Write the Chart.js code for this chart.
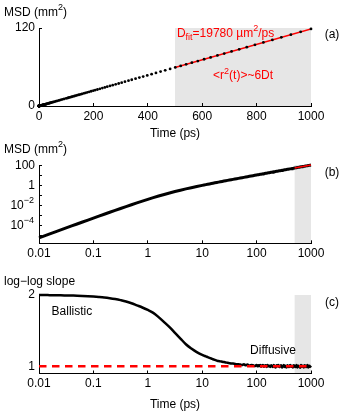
<!DOCTYPE html>
<html>
<head>
<meta charset="utf-8">
<script src="https://cdn.jsdelivr.net/npm/chart.js@4.4.0/dist/chart.umd.min.js"></script>
<style>
  html, body { margin: 0; padding: 0; background: #fff; }
  #wrap { position: relative; width: 342px; height: 414px; }
  #wrap canvas { position: absolute; left: 0; top: 0; }
</style>
</head>
<body>
<div id="wrap">
  <canvas id="msdLin" width="342" height="414"></canvas>
  <canvas id="msdLog" width="342" height="414"></canvas>
  <canvas id="slopeLog" width="342" height="414"></canvas>
</div>
<script>
// lag times (ps)
const time = [
  0.01, 0.0126, 0.0158, 0.02, 0.0251, 0.0316, 0.0398, 0.0501, 0.0631, 0.0794,
  0.1, 0.126, 0.158, 0.2, 0.251, 0.316, 0.398, 0.501, 0.631, 0.794,
  1, 1.26, 1.58, 2, 2.51, 3.16, 3.98, 5.01, 6.31, 7.94,
  10, 10.8, 11.7, 12.6, 13.6, 14.7, 15.8, 17.1, 18.5, 20.0,
  21.5, 23.3, 25.1, 27.1, 29.3, 31.6, 34.1, 36.9, 39.8, 43.0,
  46.4, 50.1, 54.1, 58.4, 63.1, 68.1, 73.6, 79.4, 85.8, 92.6,
  100, 104, 108, 112, 117, 121, 126, 131, 136, 141,
  147, 153, 158, 165, 171, 178, 185, 192, 200, 207,
  215, 224, 233, 242, 251, 261, 271, 282, 293, 304,
  316, 329, 341, 355, 369, 383, 398, 414, 430, 447,
  464, 482, 501, 521, 541, 562, 584, 607, 631, 656,
  681, 708, 736, 764, 794, 825, 858, 891, 926, 962, 1000
];

// mean squared displacement (mm^2)
const msd = [
  5.38e-6, 8.53e-6, 1.34e-5, 2.15e-5, 3.37e-5, 5.34e-5, 8.44e-5, 1.334e-4, 2.107e-4, 3.32e-4,
  5.235e-4, 8.25e-4, 1.285e-3, 2.033e-3, 3.154e-3, 4.906e-3, 7.6e-3, 0.0117, 0.0179, 0.0271,
  0.0407, 0.0605, 0.088, 0.128, 0.1807, 0.2519, 0.3454, 0.4655, 0.6189, 0.812,
  1.06, 1.15, 1.26, 1.37, 1.48, 1.61, 1.75, 1.90, 2.07, 2.24,
  2.42, 2.64, 2.85, 3.09, 3.35, 3.62, 3.92, 4.25, 4.59, 4.97,
  5.38, 5.82, 6.29, 6.80, 7.36, 7.95, 8.61, 9.29, 10.05, 10.86,
  11.74, 12.21, 12.69, 13.16, 13.76, 14.23, 14.83, 15.42, 16.01, 16.61,
  17.32, 18.03, 18.62, 19.46, 20.17, 21.00, 21.83, 22.66, 23.61, 24.44,
  25.39, 26.46, 27.53, 28.60, 29.66, 30.85, 32.04, 33.34, 34.65, 35.95,
  37.38, 38.92, 40.35, 42.01, 43.67, 45.33, 47.11, 49.01, 50.91, 52.93,
  54.95, 57.08, 59.34, 61.71, 64.09, 66.58, 69.19, 71.92, 74.77, 77.74,
  80.70, 83.91, 87.23, 90.56, 94.12, 97.80, 101.71, 105.63, 109.79, 114.06, 118.57
];

// local log-log slope
const slope = [
  2.00, 2.00, 1.998, 1.997, 1.996, 1.994, 1.992, 1.99, 1.987, 1.983,
  1.978, 1.972, 1.965, 1.955, 1.943, 1.928, 1.91, 1.885, 1.855, 1.825,
  1.79, 1.75, 1.69, 1.62, 1.55, 1.47, 1.39, 1.31, 1.25, 1.20,
  1.16, 1.15, 1.14, 1.13, 1.12, 1.11, 1.10, 1.09, 1.08, 1.075,
  1.07, 1.065, 1.06, 1.055, 1.05, 1.045, 1.04, 1.04, 1.035, 1.03,
  1.03, 1.025, 1.02, 1.03, 1.015, 1.025, 1.01, 1.02, 1.015, 1.005,
  1.02, 1.00, 1.015, 1.005, 1.02, 0.995, 1.01, 1.02, 0.995, 1.01,
  1.015, 0.99, 1.02, 1.00, 1.01, 0.99, 1.015, 1.005, 0.99, 1.02,
  1.00, 0.985, 1.015, 1.00, 1.02, 0.99, 1.005, 1.015, 0.985, 1.00,
  1.02, 0.99, 1.01, 0.985, 1.015, 1.00, 0.99, 1.02, 0.995, 1.01,
  0.985, 1.015, 1.00, 0.99, 1.02, 0.985, 1.01, 1.00, 0.98, 1.02,
  0.995, 1.01, 0.985, 1.015, 1.00, 0.99, 1.02, 0.985, 1.01, 0.995, 1.01
];

// linear fit over the shaded window
const fitRange = [500, 1000];
const fitMsd = [59.2, 118.6];
// reference slope of pure diffusion
const refTime = [0.01, 1000];
const refSlope = [1, 1];

const linTimeTicks = [0, 200, 400, 600, 800, 1000];
const linMsdTicks = [0, 120];
const logTimeTicks = [0.01, 0.1, 1, 10, 100, 1000];
const logMsdTicks = [1e-5, 1e-4, 1e-3, 1e-2, 0.1, 1, 10, 100];
const slopeTicks = [1, 2];

const FONT = "'Liberation Sans', Arial, sans-serif";
Chart.defaults.font.family = FONT;
Chart.defaults.font.size = 12;
Chart.defaults.color = '#000';

const pts = (xs, ys) => xs.map((x, i) => ({ x: x, y: ys[i] }));

// text with sub/superscripts: strings are normal, {sup:..} / {sub:..} are small
function drawRich(ctx, parts, x, y, align, color) {
  let w = 0;
  const items = parts.map(p => {
    const small = typeof p !== 'string';
    const t = small ? (p.sup || p.sub) : p;
    ctx.font = (small ? 9 : 12) + 'px ' + FONT;
    const iw = ctx.measureText(t).width;
    w += iw;
    return { t: t, w: iw, dy: small ? (p.sup ? -5 : 4) : 0, small: small };
  });
  let cx = align === 'center' ? x - w / 2 : align === 'right' ? x - w : x;
  ctx.save();
  ctx.fillStyle = color || '#000';
  ctx.textBaseline = 'middle';
  ctx.textAlign = 'left';
  items.forEach(it => {
    ctx.font = (it.small ? 9 : 12) + 'px ' + FONT;
    ctx.fillText(it.t, cx, y + it.dy);
    cx += it.w;
  });
  ctx.restore();
}

const notes = {
  id: 'notes',
  beforeDraw(chart, args, opts) {
    if (!opts.shade) return;
    const { ctx, chartArea: a, scales: { x } } = chart;
    const x0 = x.getPixelForValue(fitRange[0]);
    const x1 = x.getPixelForValue(fitRange[1]);
    ctx.save();
    ctx.fillStyle = '#e6e6e6';
    ctx.fillRect(x0, a.top, x1 - x0, a.bottom - a.top);
    ctx.restore();
  },
  afterDraw(chart, args, opts) {
    const { ctx, chartArea: a, scales } = chart;
    (opts.items || []).forEach(n => {
      let px, py;
      if (n.ref === 'data') {
        px = scales.x.getPixelForValue(n.x);
        py = scales.y.getPixelForValue(n.y);
      } else if (n.ref === 'ytick') {
        px = a.left - 5;
        py = scales.y.getPixelForValue(n.y);
      } else if (n.ref === 'bottom') {
        px = (a.left + a.right) / 2;
        py = a.bottom + n.dy;
      } else if (n.ref === 'right') {
        px = a.right + n.dx;
        py = a.top + n.dy;
      } else {
        px = n.dx;
        py = a.top + n.dy;
      }
      drawRich(ctx, n.parts, px, py, n.align || 'left', n.color);
    });
  }
};

function axis(type, min, max, tickVals, size, label) {
  return {
    type: type,
    min: min,
    max: max,
    bounds: 'data',
    grid: { drawOnChartArea: false, drawTicks: true, tickLength: -3, color: '#000', lineWidth: 1 },
    border: { display: true, color: '#000', width: 1 },
    ticks: {
      padding: size.pad,
      autoSkip: false,
      maxRotation: 0,
      color: '#000',
      font: { family: FONT, size: 12 },
      callback: label
    },
    afterBuildTicks: s => { s.ticks = tickVals.map(v => ({ value: v })); },
    afterFit: s => {
      if (size.w !== undefined) s.width = size.w;
      if (size.h !== undefined) s.height = size.h;
    }
  };
}

const plain = v => String(v);
const common = {
  responsive: false,
  animation: false,
  events: [],
  plugins: { legend: { display: false }, tooltip: { enabled: false } }
};

// (a) MSD on linear axes
new Chart(document.getElementById('msdLin'), {
  type: 'scatter',
  data: {
    datasets: [
      { data: pts(time, msd), pointRadius: 1.4, pointBorderWidth: 0, backgroundColor: '#000', clip: false },
      { type: 'line', data: pts(fitRange, fitMsd), borderColor: '#ff0000', borderWidth: 1.5, pointRadius: 0 }
    ]
  },
  options: Object.assign({}, common, {
    layout: { padding: { left: 0, right: 31, top: 28, bottom: 288 } },
    scales: {
      x: axis('linear', 0, 1000, linTimeTicks, { h: 20, pad: 6 }, plain),
      y: axis('linear', 0, 120, linMsdTicks, { w: 39, pad: 7 }, plain)
    },
    plugins: Object.assign({}, common.plugins, {
      notes: {
        shade: true,
        items: [
          { ref: 'left', dx: 4, dy: -15, parts: ['MSD (mm', { sup: '2' }, ')'] },
          { ref: 'bottom', dy: 28, align: 'center', parts: ['Time (ps)'] },
          { ref: 'right', dx: 21, dy: 7, align: 'center', parts: ['(a)'] },
          { ref: 'data', x: 507, y: 111.5, color: '#ff0000', parts: ['D', { sub: 'fit' }, '=19780 \u00b5m', { sup: '2' }, '/ps'] },
          { ref: 'data', x: 640, y: 46, color: '#ff0000', parts: ['<r', { sup: '2' }, '(t)>~6Dt'] }
        ]
      }
    })
  }),
  plugins: [notes]
});

// (b) MSD on log-log axes
new Chart(document.getElementById('msdLog'), {
  type: 'line',
  data: {
    datasets: [
      { data: pts(fitRange, fitMsd), borderColor: '#ff0000', borderWidth: 1.5, pointRadius: 0, clip: false },
      { data: pts(time, msd), borderColor: '#000', borderWidth: 3, pointRadius: 0, clip: false }
    ]
  },
  options: Object.assign({}, common, {
    layout: { padding: { left: 0, right: 31, top: 165, bottom: 150.7 } },
    scales: {
      x: axis('logarithmic', 0.01, 1000, logTimeTicks, { h: 20, pad: 6 }, plain),
      y: axis('logarithmic', 1.5e-6, 120, logMsdTicks, { w: 39, pad: 7 },
        v => (v === 100 || v === 1) ? String(v) : '')
    },
    plugins: Object.assign({}, common.plugins, {
      notes: {
        shade: true,
        items: [
          { ref: 'left', dx: 4, dy: -15, parts: ['MSD (mm', { sup: '2' }, ')'] },
          { ref: 'right', dx: 21, dy: 7.5, align: 'center', parts: ['(b)'] },
          { ref: 'ytick', y: 1e-2, align: 'right', parts: ['10', { sup: '\u22122' }] },
          { ref: 'ytick', y: 1e-4, align: 'right', parts: ['10', { sup: '\u22124' }] }
        ]
      }
    })
  }),
  plugins: [notes]
});

// (c) local slope of the log-log curve
new Chart(document.getElementById('slopeLog'), {
  type: 'line',
  data: {
    datasets: [
      { data: pts(refTime, refSlope), borderColor: '#ff0000', borderWidth: 2.5, borderDash: [7.5, 5.5], pointRadius: 0, clip: false },
      { data: pts(time, slope), borderColor: '#000', borderWidth: 2.5, pointRadius: 0, cubicInterpolationMode: 'monotone', clip: false }
    ]
  },
  options: Object.assign({}, common, {
    layout: { padding: { left: 0, right: 31, top: 295, bottom: 20.5 } },
    scales: {
      x: axis('logarithmic', 0.01, 1000, logTimeTicks, { h: 20, pad: 6 }, plain),
      y: axis('linear', 0.9, 2, slopeTicks, { w: 39, pad: 7 }, plain)
    },
    plugins: Object.assign({}, common.plugins, {
      notes: {
        shade: true,
        items: [
          { ref: 'left', dx: 4, dy: -13.5, parts: ['log\u2212log slope'] },
          { ref: 'bottom', dy: 31.5, align: 'center', parts: ['Time (ps)'] },
          { ref: 'right', dx: 21, dy: 8, align: 'center', parts: ['(c)'] },
          { ref: 'data', x: 0.017, y: 1.76, parts: ['Ballistic'] },
          { ref: 'data', x: 76, y: 1.22, parts: ['Diffusive'] }
        ]
      }
    })
  }),
  plugins: [notes]
});
</script>
</body>
</html>
